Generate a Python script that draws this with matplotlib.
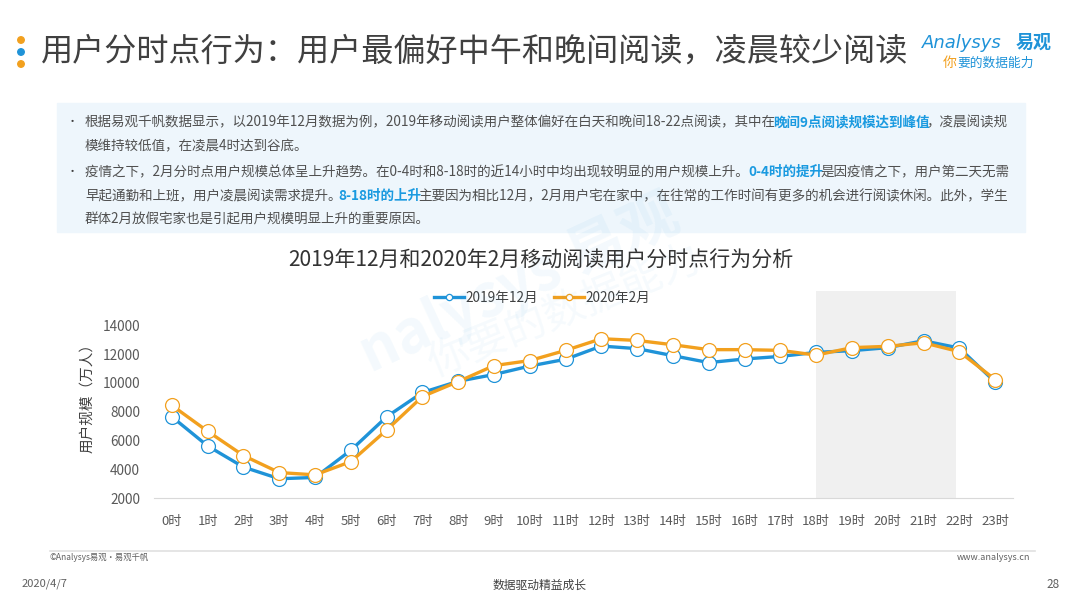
import numpy as np
import matplotlib.pyplot as plt
from matplotlib.patches import Rectangle, Ellipse

plt.rcParams['font.family'] = ['Noto Sans CJK SC', 'DejaVu Sans']

# data
hours = [f"{h}时" for h in range(24)]
dec_2019 = [7650, 5620, 4150, 3340, 3430, 5320, 7650, 9340, 10120, 10590, 11180, 11650,
            12570, 12390, 11900, 11420, 11670, 11850, 12130, 12250, 12460, 12940, 12430, 10070]
feb_2020 = [8440, 6640, 4950, 3770, 3610, 4530, 6730, 9060, 10100, 11210, 11560, 12270,
            13080, 12960, 12660, 12320, 12320, 12270, 11940, 12460, 12550, 12800, 12180, 10240]
series_names = ["2019年12月", "2020年2月"]
y_ticks = [2000, 4000, 6000, 8000, 10000, 12000, 14000]

BLUE = '#1f93d8'
ORANGE = '#f2a01e'
GRAY_TXT = '#404040'
HL = '#1a9ae0'

W, H = 1080, 608
fig = plt.figure(figsize=(W / 100, H / 100), dpi=100)
fig.patch.set_facecolor('white')


def px(x, y):
    """pixel coords (top-left origin) -> figure fraction"""
    return x / W, 1 - y / H


# ---- header ----
for yy, c in [(40, ORANGE), (52, BLUE), (64, ORANGE)]:
    fig.patches.append(Ellipse(px(21, yy), 6.5 / W, 6.5 / H, transform=fig.transFigure,
                               color=c, zorder=5))
fig.text(*px(41, 52), "用户分时点行为：用户最偏好中午和晚间阅读，凌晨较少阅读",
         fontsize=23.1, color=GRAY_TXT, va='center', ha='left')
fig.text(*px(922, 43), "Analysys", fontsize=13, color=BLUE, va='center', ha='left',
         style='italic', family=['DejaVu Sans'])
fig.text(*px(1016, 42), "易观", fontsize=13, color=BLUE, va='center', ha='left',
         fontweight='bold')
fig.text(*px(943, 63), "你", fontsize=10, color=ORANGE, va='center', ha='left')
fig.text(*px(957, 63), "要的数据能力", fontsize=9.2, color=BLUE, va='center', ha='left')

# ---- text box ----
fig.patches.append(Rectangle(px(57, 232), (1025 - 57) / W, (232 - 103) / H,
                             transform=fig.transFigure, color='#eef6fc', zorder=0))

lines = [
    (122, True, [("根据易观千帆数据显示，以2019年12月数据为例，2019年移动阅读用户整体偏好在白天和晚间18-22点阅读，其中在", False),
                 ("晚间9点阅读规模达到峰值", True), ("，凌晨阅读规", False)]),
    (146, False, [("模维持较低值，在凌晨4时达到谷底。", False)]),
    (172, True, [("疫情之下，2月分时点用户规模总体呈上升趋势。在0-4时和8-18时的近14小时中均出现较明显的用户规模上升。 ", False),
                 ("0-4时的提升", True), ("是因疫情之下，用户第二天无需", False)]),
    (196, False, [("早起通勤和上班，用户凌晨阅读需求提升。", False), ("8-18时的上升", True),
                  ("主要因为相比12月，2月用户宅在家中，在往常的工作时间有更多的机会进行阅读休闲。此外，学生", False)]),
    (220, False, [("群体2月放假宅家也是引起用户规模明显上升的重要原因。", False)]),
]
renderer = fig.canvas.get_renderer()
for yy, bullet, parts in lines:
    if bullet:
        fig.text(*px(67, yy), "•", fontsize=8, color=GRAY_TXT, va='center')
    x0 = 85
    for s, hl in parts:
        t = fig.text(*px(x0, yy), s, fontsize=9.75, va='center', ha='left',
                     color=HL if hl else '#505050', fontweight='bold' if hl else 'normal')
        x0 += t.get_window_extent(renderer).width - 3

# ---- watermark ----
fig.text(*px(520, 285), "nalysys 易观", fontsize=42, color=BLUE, alpha=0.05, rotation=25,
         ha='center', va='center', fontweight='bold')
fig.text(*px(565, 312), "你要的数据能力", fontsize=30, color=BLUE, alpha=0.045, rotation=22,
         ha='center', va='center')

# ---- chart ----
fig.text(*px(541, 261), "2019年12月和2020年2月移动阅读用户分时点行为分析",
         fontsize=15.1, color='#333333', ha='center', va='center')

ax = fig.add_axes([154 / W, 1 - 498 / H, (1013 - 154) / W, (498 - 291) / H])
x = np.arange(len(hours))
ax.axvspan(18, 21.92, color='#f0f0f0', zorder=0, lw=0)
ax.plot(x, dec_2019, color=BLUE, lw=2.4, marker='o', ms=10, mfc='white',
        mec=BLUE, mew=0.9, label=series_names[0], zorder=3)
ax.plot(x, feb_2020, color=ORANGE, lw=2.4, marker='o', ms=10, mfc='white',
        mec=ORANGE, mew=0.9, label=series_names[1], zorder=4)

ax.set_xlim(-0.5, 23.5)
ax.set_ylim(2000, 16400)
ax.set_xticks(x)
ax.set_xticklabels(hours, fontsize=9.5, color='#595959')
ax.set_yticks(y_ticks)
ax.set_yticklabels([str(v) for v in y_ticks], fontsize=9.8, color='#595959')
ax.tick_params(length=0)
ax.tick_params(axis='x', pad=12)
ax.tick_params(axis='y', pad=10)
for s in ['top', 'right', 'left']:
    ax.spines[s].set_visible(False)
ax.spines['bottom'].set_color('#d9d9d9')
ax.set_facecolor('none')
ax.set_ylabel("用户规模（万人）", fontsize=10.5, color='#404040', labelpad=6)

leg = ax.legend(loc='center', bbox_to_anchor=(542 / W, 1 - 298 / H),
                bbox_transform=fig.transFigure, ncol=2, frameon=False,
                fontsize=9.8, markerscale=0.45, handlelength=2.2, columnspacing=1.2,
                handletextpad=0.1)
for t in leg.get_texts():
    t.set_color('#404040')

# ---- footer ----
fig.add_artist(plt.Line2D([50 / W, 1035 / W], [1 - 551 / H] * 2, color='#e0e0e0', lw=1.2,
                          transform=fig.transFigure))
fig.text(*px(50, 558), "©Analysys易观·易观千帆", fontsize=6, color='#606060', va='center')
fig.text(*px(1030, 558), "www.analysys.cn", fontsize=6.5, color='#606060', va='center', ha='right')
fig.text(*px(22, 584), "2020/4/7", fontsize=8, color='#606060', va='center')
fig.text(*px(540, 585), "数据驱动精益成长", fontsize=8.5, color='#404040', va='center', ha='center')
fig.text(*px(1060, 584), "28", fontsize=8.5, color='#606060', va='center', ha='right')

fig.savefig('out.png', dpi=100)
